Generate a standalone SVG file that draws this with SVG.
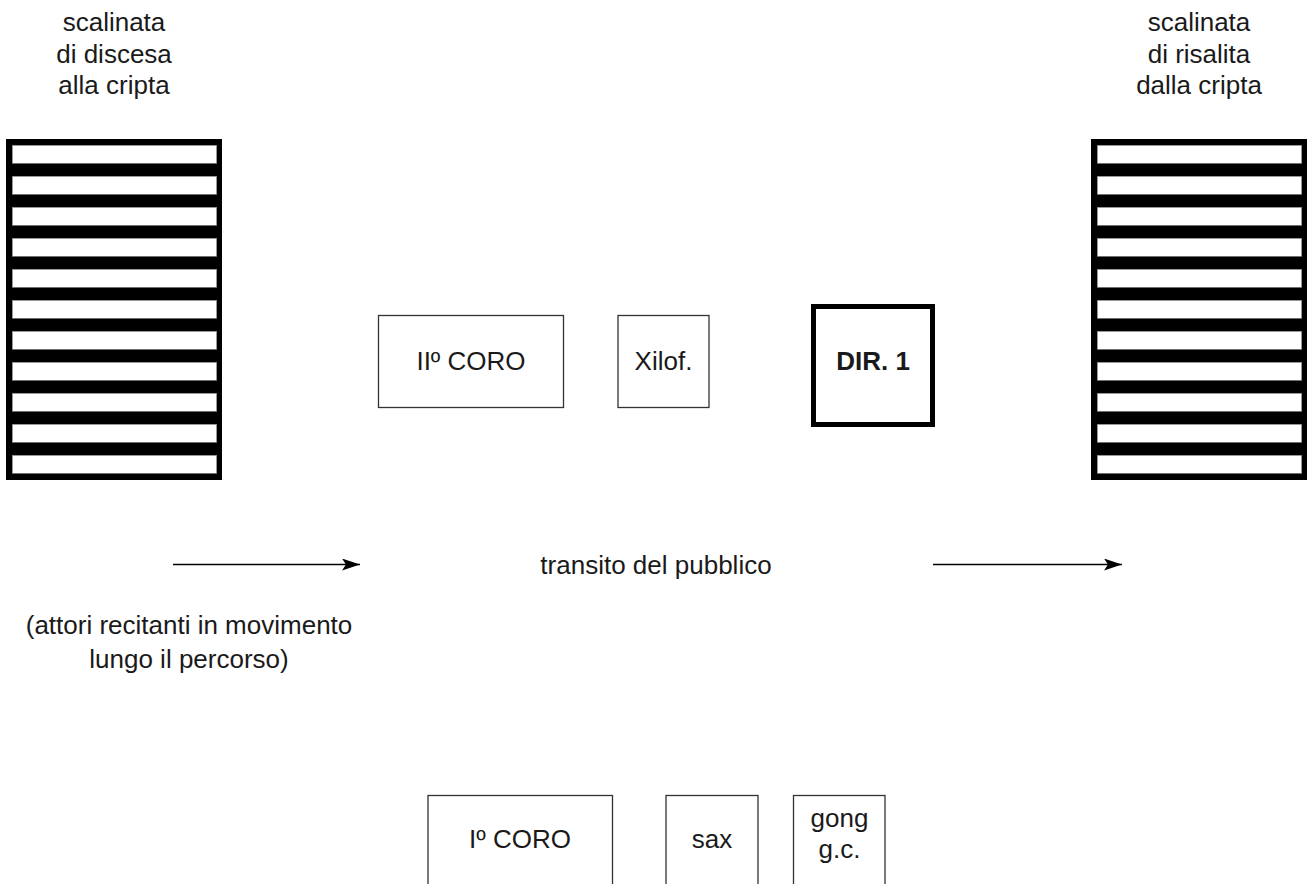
<svg xmlns="http://www.w3.org/2000/svg" width="1310" height="884" viewBox="0 0 1310 884">
<defs>
<style>
text{font-family:"Liberation Sans",Arial,sans-serif;font-size:26px;fill:#1a1a1a;text-anchor:middle}
.box{fill:#fff;stroke:#333;stroke-width:1.3}
.thick{fill:#fff;stroke:#000;stroke-width:5}
.stair{fill:#000}
.step{fill:#fff;stroke:#888;stroke-width:0.6}
.conn{stroke:#000;stroke-width:1.3;fill:none}
</style>
<marker id="ah" markerWidth="20" markerHeight="14" refX="18" refY="6" orient="auto" markerUnits="userSpaceOnUse">
<path d="M0,0 L18,6 L0,12 L4,6 Z" fill="#000"/>
</marker>
</defs>
<rect width="1310" height="884" fill="#fff"/>

<g id="stair-left">
<rect class="stair" x="6" y="139" width="216" height="341"/>
<rect class="step" x="12.3" y="145.3" width="204.4" height="18"/>
<rect class="step" x="12.3" y="176.3" width="204.4" height="18"/>
<rect class="step" x="12.3" y="207.3" width="204.4" height="18"/>
<rect class="step" x="12.3" y="238.3" width="204.4" height="18"/>
<rect class="step" x="12.3" y="269.3" width="204.4" height="18"/>
<rect class="step" x="12.3" y="300.3" width="204.4" height="18"/>
<rect class="step" x="12.3" y="331.3" width="204.4" height="18"/>
<rect class="step" x="12.3" y="362.3" width="204.4" height="18"/>
<rect class="step" x="12.3" y="393.3" width="204.4" height="18"/>
<rect class="step" x="12.3" y="424.3" width="204.4" height="18"/>
<rect class="step" x="12.3" y="455.3" width="204.4" height="18"/>
<text x="114" y="31">scalinata</text>
<text x="114" y="63">di discesa</text>
<text x="114" y="94">alla cripta</text>
</g>

<g id="stair-right">
<rect class="stair" x="1091" y="139" width="216" height="341"/>
<rect class="step" x="1097.3" y="145.3" width="204.4" height="18"/>
<rect class="step" x="1097.3" y="176.3" width="204.4" height="18"/>
<rect class="step" x="1097.3" y="207.3" width="204.4" height="18"/>
<rect class="step" x="1097.3" y="238.3" width="204.4" height="18"/>
<rect class="step" x="1097.3" y="269.3" width="204.4" height="18"/>
<rect class="step" x="1097.3" y="300.3" width="204.4" height="18"/>
<rect class="step" x="1097.3" y="331.3" width="204.4" height="18"/>
<rect class="step" x="1097.3" y="362.3" width="204.4" height="18"/>
<rect class="step" x="1097.3" y="393.3" width="204.4" height="18"/>
<rect class="step" x="1097.3" y="424.3" width="204.4" height="18"/>
<rect class="step" x="1097.3" y="455.3" width="204.4" height="18"/>
<text x="1199" y="31">scalinata</text>
<text x="1199" y="63">di risalita</text>
<text x="1199" y="94">dalla cripta</text>
</g>

<g id="coro2">
<rect class="box" x="378.5" y="315.5" width="185" height="92"/>
<text x="471" y="370">IIº CORO</text>
</g>
<g id="xilof">
<rect class="box" x="618" y="315.5" width="91" height="92"/>
<text x="663.5" y="370">Xilof.</text>
</g>
<g id="dir1">
<rect class="thick" x="813.5" y="306.5" width="119" height="118"/>
<text x="873" y="370" font-weight="bold">DIR. 1</text>
</g>

<g id="transito">
<text x="656" y="574">transito del pubblico</text>
</g>
<g id="attori">
<text x="189" y="634">(attori recitanti in movimento</text>
<text x="189" y="668">lungo il percorso)</text>
</g>

<g id="coro1">
<rect class="box" x="428" y="795.5" width="184.5" height="100"/>
<text x="520" y="848">Iº CORO</text>
</g>
<g id="sax">
<rect class="box" x="666" y="795.5" width="92" height="100"/>
<text x="712" y="848">sax</text>
</g>
<g id="gong">
<rect class="box" x="793.5" y="795.5" width="91.5" height="100"/>
<text x="839.5" y="827">gong</text>
<text x="839.5" y="858">g.c.</text>
</g>

<g id="connectors">
<line class="conn" x1="173" y1="564.5" x2="360" y2="564.5" marker-end="url(#ah)"/>
<line class="conn" x1="933" y1="564.5" x2="1122" y2="564.5" marker-end="url(#ah)"/>
</g>
</svg>
